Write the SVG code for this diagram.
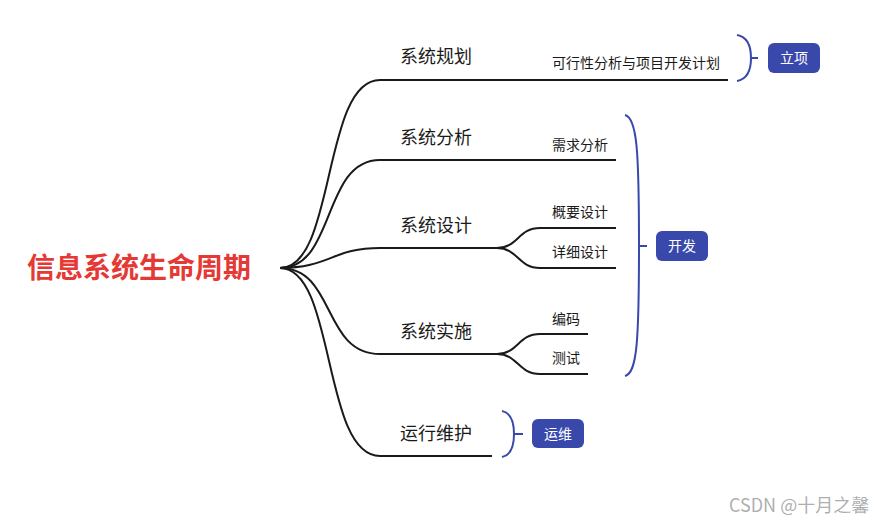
<svg xmlns="http://www.w3.org/2000/svg" width="896" height="523" viewBox="0 0 896 523">
<style>
.br{fill:none;stroke:#1a1a1a;stroke-width:2;stroke-linecap:butt}
.bk{fill:none;stroke:#3949ab;stroke-width:2}
.tag{fill:#3949ab}
.main{font-family:"Noto Sans CJK SC","Noto Sans",sans-serif;font-size:18px;fill:#1a1a1a}
.sub{font-family:"Noto Sans CJK SC","Noto Sans",sans-serif;font-size:14px;fill:#1a1a1a}
.tt{font-family:"Noto Sans CJK SC","Noto Sans",sans-serif;font-size:14px;fill:#ffffff;text-anchor:middle}
</style>
<rect width="896" height="523" fill="#ffffff"/>
<g id="connectors">
<path class="br" d="M280,268 C336,268 322,80 380,80 H728"/>
<path class="br" d="M280,268 C336,268 322,160 380,160 H616"/>
<path class="br" d="M280,268 C330,268 332,248 380,248 H497"/>
<path class="br" d="M280,268 C336,268 322,354 380,354 H497"/>
<path class="br" d="M280,268 C336,268 322,456 380,456 H492"/>
<path class="br" d="M497,248 C518,248 518,228 540,228 H616"/>
<path class="br" d="M497,248 C518,248 518,268 540,268 H616"/>
<path class="br" d="M497,354 C518,354 518,334 540,334 H588"/>
<path class="br" d="M497,354 C518,354 518,374 540,374 H588"/>
<path class="bk" d="M737,35 C748,37 751,48 751,58 C751,68 748,79 737,81 M751,58 H758"/>
<path class="bk" d="M625,115 C637,118 639,150 639,246 C639,342 637,373 625,376 M639,246 H647"/>
<path class="bk" d="M502,411 C512,413 514,424 514,434 C514,444 512,455 502,457 M514,434 H523"/>
</g>
<g id="root"><text x="27" y="278" style="font-family:'Noto Sans CJK SC','Noto Sans',sans-serif;font-size:28px;font-weight:bold;fill:#e53935">信息系统生命周期</text></g>
<g id="n-guihua"><text class="main" x="400" y="63">系统规划</text></g>
<g id="n-kexing"><text class="sub" x="552" y="68">可行性分析与项目开发计划</text></g>
<g id="n-fenxi"><text class="main" x="400" y="144">系统分析</text></g>
<g id="n-xuqiu"><text class="sub" x="552" y="150">需求分析</text></g>
<g id="n-sheji"><text class="main" x="400" y="232">系统设计</text></g>
<g id="n-gaiyao"><text class="sub" x="552" y="217">概要设计</text></g>
<g id="n-xiangxi"><text class="sub" x="552" y="257">详细设计</text></g>
<g id="n-shishi"><text class="main" x="400" y="338">系统实施</text></g>
<g id="n-bianma"><text class="sub" x="552" y="324">编码</text></g>
<g id="n-ceshi"><text class="sub" x="552" y="363">测试</text></g>
<g id="n-weihu"><text class="main" x="400" y="440">运行维护</text></g>
<g id="t-lixiang"><rect class="tag" x="768" y="43" width="52" height="30" rx="6"/><text class="tt" x="794" y="63">立项</text></g>
<g id="t-kaifa"><rect class="tag" x="656" y="231" width="52" height="30" rx="6"/><text class="tt" x="682" y="251">开发</text></g>
<g id="t-yunwei"><rect class="tag" x="532" y="419" width="52" height="29" rx="6"/><text class="tt" x="558" y="439">运维</text></g>
<text x="729" y="512" style="font-family:'Noto Sans CJK SC','Noto Sans',sans-serif;font-size:18px;fill:#999999;fill-opacity:0.8">CSDN @十月之馨</text>
</svg>
